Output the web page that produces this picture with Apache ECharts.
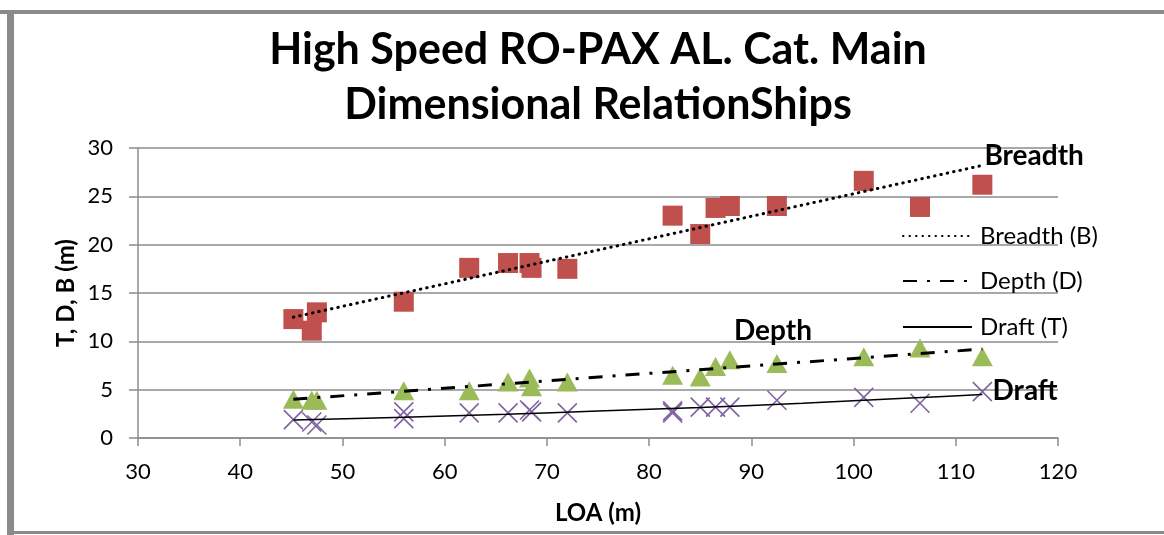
<!DOCTYPE html>
<html>
<head>
<meta charset="utf-8">
<script src="https://cdn.jsdelivr.net/npm/echarts@6/dist/echarts.min.js"></script>
<style>
html,body{margin:0;padding:0;background:#fff;}
#c{width:1164px;height:535px;}
</style>
</head>
<body>
<div id="c"></div>
<script>
// ---- data ----
var titleText = 'High Speed RO-PAX AL. Cat. Main\nDimensional RelationShips';
var xTicks = [30, 40, 50, 60, 70, 80, 90, 100, 110, 120];
var yTicks = [0, 5, 10, 15, 20, 25, 30];

var breadthLOA = [45.2, 47.0, 47.5, 56.0, 62.4, 66.2, 68.3, 68.5, 72.0, 82.3, 85.0, 86.5, 87.9, 92.5, 101.0, 106.5, 112.6];
var breadthB   = [12.3, 11.1, 13.0, 14.1, 17.6, 18.1, 18.1, 17.6, 17.5, 23.0, 21.1, 23.8, 24.0, 24.0, 26.6, 23.9, 26.2];

var depthLOA = [45.2, 47.0, 47.5, 56.0, 62.4, 66.2, 68.3, 68.5, 72.0, 82.3, 85.0, 86.5, 87.9, 92.5, 101.0, 106.5, 112.6];
var depthD   = [4.0, 3.9, 3.9, 4.9, 4.9, 5.8, 6.2, 5.3, 5.8, 6.5, 6.3, 7.4, 8.1, 7.7, 8.4, 9.3, 8.4];

var draftLOA = [45.2, 47.0, 47.5, 56.0, 56.0, 62.4, 66.2, 68.3, 68.5, 72.0, 82.3, 82.3, 85.0, 86.5, 87.9, 92.5, 101.0, 106.5, 112.6];
var draftT   = [1.9, 1.65, 1.35, 2.7, 2.0, 2.6, 2.6, 2.9, 2.7, 2.6, 2.8, 2.6, 3.2, 3.2, 3.2, 3.9, 4.2, 3.6, 4.8];

// trend lines
var breadthTrendLOA = [45.2, 112.6];
var breadthTrendB   = [12.5, 28.2];
var depthTrendLOA = [45.2, 112.6];
var depthTrendD   = [4.0, 9.2];
var draftTrendLOA = [45.2, 56, 66, 75, 85, 95, 105, 112.6];
var draftTrendT   = [1.85, 2.15, 2.45, 2.8, 3.15, 3.6, 4.1, 4.5];

var legendNames = ['Breadth (B)', 'Depth (D)', 'Draft (T)'];
var legendTops = [224, 269, 315];
var lineLabels = [
  {text: 'Breadth', at: [112.8, 29.2]},
  {text: 'Depth',   at: [88.3, 11.1]},
  {text: 'Draft',   at: [113.6, 4.85]}
];

function pairs(xs, ys) { return xs.map(function (x, i) { return [x, ys[i]]; }); }

var FONT = 'Lato, "Open Sans", sans-serif';
var chart = echarts.init(document.getElementById('c'), null, {renderer: 'canvas'});

var legends = legendNames.map(function (n, i) {
  return {
    data: [n],
    orient: 'vertical',
    left: 902,
    top: legendTops[i],
    padding: 0,
    itemWidth: 69,
    itemHeight: 22,
    selectedMode: false,
    itemStyle: {opacity: 0},
    textStyle: {fontFamily: FONT, fontSize: 24, lineHeight: 22, color: '#000', padding: [0, 0, 0, 3]}
  };
});

var option = {
  animation: false,
  backgroundColor: '#ffffff',
  textStyle: {fontFamily: FONT},
  title: {
    text: titleText,
    left: 593,
    textAlign: 'center',
    top: 18,
    textStyle: {fontFamily: FONT, fontSize: 43, fontWeight: 'bold', color: '#000', lineHeight: 55}
  },
  grid: {left: 138, right: 106, top: 148, bottom: 97, containLabel: false},
  legend: legends,
  xAxis: {
    type: 'value',
    min: xTicks[0],
    max: xTicks[xTicks.length - 1],
    interval: 10,
    name: 'LOA (m)',
    nameLocation: 'middle',
    nameGap: 63,
    nameMoveOverlap: false,
    nameTextStyle: {fontFamily: FONT, fontSize: 24, fontWeight: 'bold', color: '#000'},
    axisLine: {show: true, lineStyle: {color: '#8c8c8c', width: 1.5}},
    axisTick: {show: true, inside: false, length: 8, lineStyle: {color: '#8c8c8c', width: 1.5}},
    axisLabel: {fontFamily: FONT, fontSize: 22, color: '#000', margin: 23},
    splitLine: {show: false}
  },
  yAxis: {
    type: 'value',
    min: yTicks[0],
    max: yTicks[yTicks.length - 1],
    interval: 5,
    name: 'T, D, B (m)',
    nameLocation: 'middle',
    nameGap: 60,
    nameRotate: 90,
    nameMoveOverlap: false,
    nameTextStyle: {fontFamily: FONT, fontSize: 24, fontWeight: 'bold', color: '#000'},
    axisLine: {show: true, lineStyle: {color: '#8c8c8c', width: 1.5}},
    axisTick: {show: true, inside: false, length: 9, lineStyle: {color: '#8c8c8c', width: 1.5}},
    axisLabel: {fontFamily: FONT, fontSize: 22, color: '#000', margin: 25},
    splitLine: {show: true, lineStyle: {color: '#8c8c8c', width: 1.5}}
  },
  series: [
    {
      name: 'Breadth pts', type: 'scatter', data: pairs(breadthLOA, breadthB),
      symbol: 'rect', symbolSize: 20, z: 2,
      itemStyle: {color: '#C0504D', opacity: 1}
    },
    {
      name: 'Depth pts', type: 'scatter', data: pairs(depthLOA, depthD),
      symbol: 'triangle', symbolSize: [21, 19], z: 2,
      itemStyle: {color: '#9BBB59', opacity: 1}
    },
    {
      name: 'Draft pts', type: 'scatter', data: pairs(draftLOA, draftT),
      symbol: 'path://M0,0L20,20M20,0L0,20', symbolSize: 19, z: 2,
      itemStyle: {color: 'none', borderColor: '#8064A2', borderWidth: 1.6, opacity: 1}
    },
    {
      name: legendNames[0], type: 'line', data: pairs(breadthTrendLOA, breadthTrendB),
      symbol: 'none', z: 5, silent: true,
      lineStyle: {color: '#000', width: 3, type: [0.5, 6], cap: 'round'},
      itemStyle: {color: '#000'}
    },
    {
      name: legendNames[1], type: 'line', data: pairs(depthTrendLOA, depthTrendD),
      symbol: 'none', z: 5, silent: true,
      lineStyle: {color: '#000', width: 3, type: [14, 10, 3, 10]},
      itemStyle: {color: '#000'}
    },
    {
      name: legendNames[2], type: 'line', data: pairs(draftTrendLOA, draftTrendT),
      symbol: 'none', z: 5, silent: true, smooth: 0.3,
      lineStyle: {color: '#000', width: 1.5, type: 'solid'},
      itemStyle: {color: '#000'}
    }
  ]
};
chart.setOption(option);

// bold series labels + outer frame
var g = [
  {type: 'rect', shape: {x: 0, y: 10, width: 1164, height: 4}, style: {fill: '#8a8a8a'}, z: 100},
  {type: 'rect', shape: {x: 7, y: 10, width: 7, height: 525}, style: {fill: '#8a8a8a'}, z: 100},
  {type: 'rect', shape: {x: 7, y: 531, width: 1157, height: 3}, style: {fill: '#8a8a8a'}, z: 100}
];
lineLabels.forEach(function (l) {
  var p = chart.convertToPixel({gridIndex: 0}, l.at);
  g.push({
    type: 'text', x: p[0], y: p[1], z: 100,
    style: {text: l.text, fill: '#000', font: 'bold 28px ' + FONT, align: 'left', verticalAlign: 'middle'}
  });
});
chart.setOption({graphic: g});
</script>
</body>
</html>
